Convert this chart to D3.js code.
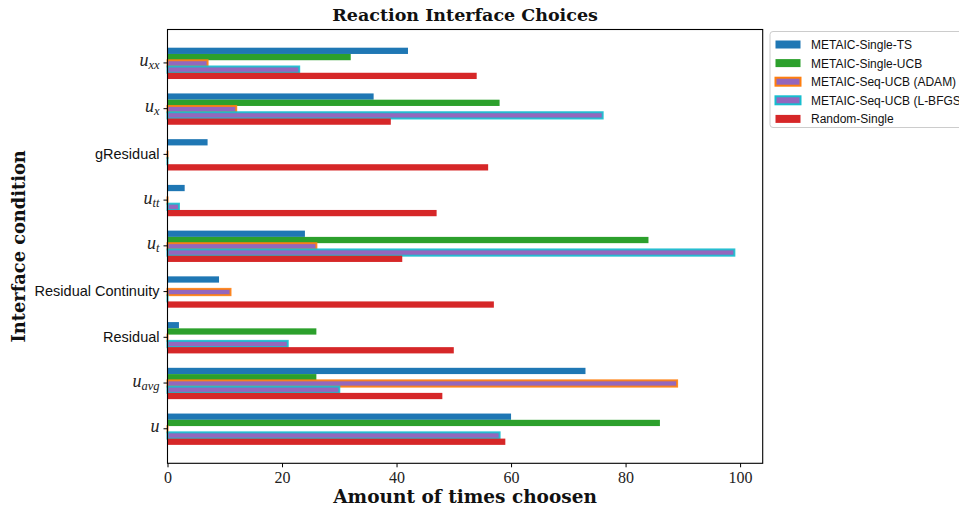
<!DOCTYPE html>
<html>
<head>
<meta charset="utf-8">
<script src="https://cdn.jsdelivr.net/npm/d3@7/dist/d3.min.js"></script>
<style>
  html, body { margin: 0; padding: 0; background: #fff; }
  svg { display: block; }
</style>
</head>
<body>
<svg id="chart" width="959" height="509"></svg>
<script>
// ---- data (categories bottom -> top) ----
const categories = ["u", "u_avg", "Residual", "Residual Continuity", "u_t", "u_tt", "gResidual", "u_x", "u_xx"];
const seriesNames = ["METAIC-Single-TS", "METAIC-Single-UCB", "METAIC-Seq-UCB (ADAM)", "METAIC-Seq-UCB (L-BFGS)", "Random-Single"];
const singleTS   = [60, 73, 2, 9, 24, 3, 7, 36, 42];
const singleUCB  = [86, 26, 26, 0, 84, 0, 0, 58, 32];
const seqAdam    = [0, 89, 0, 11, 26, 0, 0, 12, 7];
const seqLBFGS   = [58, 30, 21, 0, 99, 2, 0, 76, 23];
const randomSingle = [59, 48, 50, 57, 41, 47, 56, 39, 54];
const xTicks = [0, 20, 40, 60, 80, 100];

const seriesValues = [singleTS, singleUCB, seqAdam, seqLBFGS, randomSingle];
const fills   = ["#1f77b4", "#2ca02c", "#9467bd", "#9467bd", "#d62728"];
const strokes = [null, null, "#ff7f0e", "#17becf", null];

const svg = d3.select("#chart");
const pL = 167.5, pR = 762.7, pT = 29.5, pB = 463.3;

const x = d3.scaleLinear().domain([0, 103.95]).range([pL, pR]);
const y = d3.scaleLinear().domain([-0.766, 8.72]).range([pB, pT]);

const barH = 0.137;      // bar thickness in category units
const topOff = 0.322;    // offset of first bar top above the category centre

// ---- bars ----
seriesValues.forEach((vals, si) => {
  const g = svg.append("g");
  g.selectAll("rect").data(vals).enter().append("rect")
    .attr("x", x(0))
    .attr("y", (d, i) => y(i + topOff - si * barH))
    .attr("width", d => Math.max(x(d) - x(0), 0.01))
    .attr("height", y(0) - y(barH))
    .attr("fill", fills[si])
    .attr("stroke", strokes[si] || "none")
    .attr("stroke-width", strokes[si] ? 2 : 0)
    .attr("stroke-opacity", 0.9);
});

// ---- axes frame ----
svg.append("rect")
  .attr("x", pL).attr("y", pT)
  .attr("width", pR - pL).attr("height", pB - pT)
  .attr("fill", "none").attr("stroke", "#000").attr("stroke-width", 1.1);

// x axis
const xAxis = d3.axisBottom(x).tickValues(xTicks).tickSize(4).tickPadding(4).tickFormat(d3.format("d"));
const gx = svg.append("g").attr("transform", `translate(0,${pB})`).call(xAxis);
gx.select(".domain").remove();
gx.selectAll("text").attr("font-family", "'Liberation Serif', serif").attr("font-size", 16).attr("fill", "#222");
gx.selectAll("line").attr("stroke", "#000");

// y axis ticks
const yAxis = d3.axisLeft(y).tickValues(d3.range(categories.length)).tickSize(4).tickFormat("");
const gy = svg.append("g").attr("transform", `translate(${pL},0)`).call(yAxis);
gy.select(".domain").remove();
gy.selectAll("line").attr("stroke", "#000");

// y tick labels (math style for u-terms)
const labelX = pL - 8;
categories.forEach((c, i) => {
  const yy = y(i);
  if (c.startsWith("u")) {
    const parts = c.split("_");
    const t = svg.append("text")
      .attr("x", labelX).attr("y", yy + 4)
      .attr("text-anchor", "end")
      .attr("font-family", "'Liberation Serif', serif")
      .attr("font-style", "italic")
      .attr("fill", "#222");
    t.append("tspan").attr("font-size", 18).text(parts[0]);
    if (parts[1]) {
      t.append("tspan").attr("font-size", 12.5).attr("dy", 3).text(parts[1]);
    }
  } else {
    svg.append("text")
      .attr("x", labelX).attr("y", yy + 5)
      .attr("text-anchor", "end")
      .attr("font-family", "'Liberation Sans', sans-serif")
      .attr("font-size", 14.5)
      .attr("fill", "#111")
      .text(c);
  }
});

// ---- titles ----
svg.append("text")
  .attr("x", (pL + pR) / 2).attr("y", 21)
  .attr("text-anchor", "middle")
  .attr("font-family", "'DejaVu Serif', serif")
  .attr("font-weight", "bold").attr("font-size", 17.5)
  .attr("fill", "#111")
  .text("Reaction Interface Choices");

svg.append("text")
  .attr("x", (pL + pR) / 2).attr("y", 503)
  .attr("text-anchor", "middle")
  .attr("font-family", "'DejaVu Serif', serif")
  .attr("font-weight", "bold").attr("font-size", 18.5)
  .attr("fill", "#111")
  .text("Amount of times choosen");

svg.append("text")
  .attr("transform", `translate(25,${(pT + pB) / 2}) rotate(-90)`)
  .attr("text-anchor", "middle")
  .attr("font-family", "'DejaVu Serif', serif")
  .attr("font-weight", "bold").attr("font-size", 17.8)
  .attr("fill", "#111")
  .text("Interface condition");

// ---- legend ----
const lg = svg.append("g");
lg.append("rect")
  .attr("x", 770).attr("y", 31.5).attr("width", 240).attr("height", 96)
  .attr("rx", 3).attr("fill", "#fff").attr("stroke", "#ccc").attr("stroke-width", 1);
seriesNames.forEach((name, i) => {
  const cy = 44.5 + i * 18.6;
  lg.append("rect")
    .attr("x", 775.5).attr("y", cy - 4).attr("width", 25).attr("height", 8)
    .attr("fill", fills[i])
    .attr("stroke", strokes[i] || "none")
    .attr("stroke-width", strokes[i] ? 2 : 0);
  lg.append("text")
    .attr("x", 811).attr("y", cy + 4.5)
    .attr("font-family", "'Liberation Sans', sans-serif")
    .attr("font-size", 12).attr("fill", "#111")
    .text(name);
});
</script>
</body>
</html>
